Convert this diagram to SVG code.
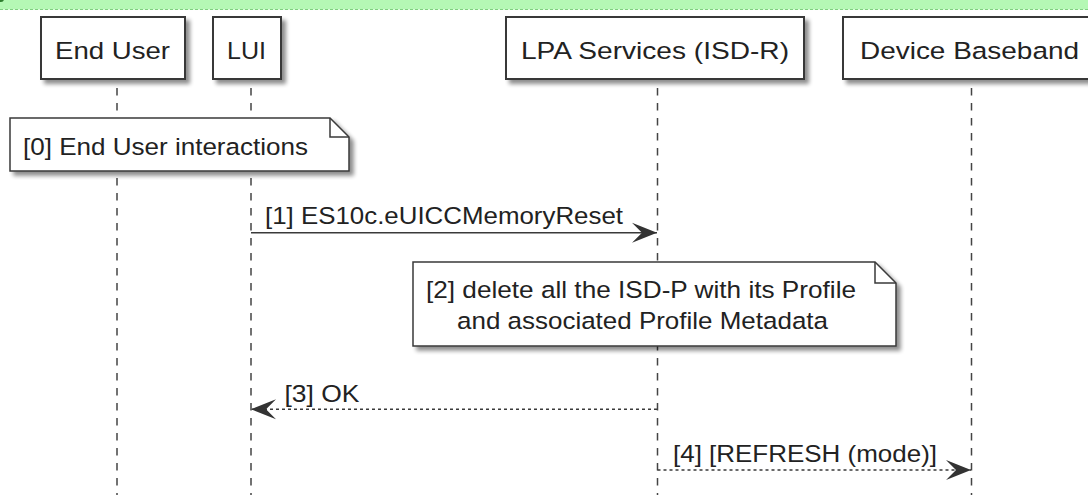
<svg xmlns="http://www.w3.org/2000/svg" width="1088" height="495" viewBox="0 0 1088 495">
<defs>
<style>
.t{font-family:"Liberation Sans",Arial,sans-serif;font-size:24.5px;fill:#222;}
.box{fill:#fff;stroke:#383838;stroke-width:2;}
.note{fill:#fff;stroke:#3a3a3a;stroke-width:1.5;}
.fold{fill:none;stroke:#3a3a3a;stroke-width:1.5;}
.life{stroke:#444;stroke-width:1.5;stroke-dasharray:7.5,7.5;fill:none;}
.msg{stroke:#3a3a3a;stroke-width:1.5;fill:none;}
.dash{stroke-dasharray:3,3;}
</style>
<filter id="sh" x="-10%" y="-20%" width="130%" height="160%">
<feGaussianBlur in="SourceAlpha" stdDeviation="2.2"/>
<feOffset dx="4" dy="4" result="o"/>
<feComponentTransfer><feFuncA type="linear" slope="0.45"/></feComponentTransfer>
<feMerge><feMergeNode/><feMergeNode in="SourceGraphic"/></feMerge>
</filter>
<marker id="ah" markerUnits="userSpaceOnUse" markerWidth="30" markerHeight="24" refX="25" refY="10" orient="auto" overflow="visible">
<path d="M0,0 L25,10 L0,20 L10,10 Z" fill="#333"/>
</marker>
</defs>
<rect width="1088" height="495" fill="#fff"/>
<rect x="0" y="0" width="1088" height="9.5" fill="#b5f8b5"/>
<line x1="0" y1="9.5" x2="1088" y2="9.5" stroke="#7fcf7f" stroke-width="1" stroke-dasharray="3,2"/>
<circle cx="1" cy="-1" r="3" fill="#2e7d2e"/>

<g id="lifelines">
<line class="life" x1="117" y1="88" x2="117" y2="495"/>
<line class="life" x1="251" y1="88" x2="251" y2="495"/>
<line class="life" x1="657.5" y1="88" x2="657.5" y2="495"/>
<line class="life" x1="971.5" y1="88" x2="971.5" y2="495"/>
</g>

<g id="p-enduser">
<rect class="box" x="41" y="17" width="144" height="62" filter="url(#sh)"/>
<text class="t" x="55" y="59" textLength="115" lengthAdjust="spacingAndGlyphs">End User</text>
</g>
<g id="p-lui">
<rect class="box" x="213" y="17" width="68" height="62" filter="url(#sh)"/>
<text class="t" x="227" y="59" textLength="39" lengthAdjust="spacingAndGlyphs">LUI</text>
</g>
<g id="p-lpa">
<rect class="box" x="506" y="17" width="298" height="62" filter="url(#sh)"/>
<text class="t" x="521" y="59" textLength="268" lengthAdjust="spacingAndGlyphs">LPA Services (ISD-R)</text>
</g>
<g id="p-baseband">
<rect class="box" x="843" y="17" width="262" height="62" filter="url(#sh)"/>
<text class="t" x="860" y="59" textLength="219" lengthAdjust="spacingAndGlyphs">Device Baseband</text>
</g>

<g id="note0">
<path class="note" d="M10,118 H330 L349,137 V171 H10 Z" filter="url(#sh)"/>
<path class="fold" d="M330,118 V137 H349"/>
<text class="t" x="23" y="155" textLength="285" lengthAdjust="spacingAndGlyphs">[0] End User interactions</text>
</g>

<g id="note2">
<path class="note" d="M413,262 H875 L896,283 V346 H413 Z" filter="url(#sh)"/>
<path class="fold" d="M875,262 V283 H896"/>
<text class="t" x="426" y="297.5" textLength="430" lengthAdjust="spacingAndGlyphs">[2] delete all the ISD-P with its Profile</text>
<text class="t" x="457" y="329" textLength="371" lengthAdjust="spacingAndGlyphs">and associated Profile Metadata</text>
</g>

<g id="connectors">
<g id="m1">
<line class="msg" x1="251" y1="232.7" x2="657" y2="232.7" marker-end="url(#ah)"/>
<text class="t" x="265" y="224.3" textLength="358" lengthAdjust="spacingAndGlyphs">[1] ES10c.eUICCMemoryReset</text>
</g>
<g id="m3">
<line class="msg dash" x1="657" y1="409.3" x2="251" y2="409.3" marker-end="url(#ah)"/>
<text class="t" x="284.5" y="402" textLength="75" lengthAdjust="spacingAndGlyphs">[3] OK</text>
</g>
<g id="m4">
<line class="msg dash" x1="657.5" y1="470" x2="971" y2="470" marker-end="url(#ah)"/>
<text class="t" x="673" y="461.5" textLength="264" lengthAdjust="spacingAndGlyphs">[4] [REFRESH (mode)]</text>
</g>
</g>
</svg>
